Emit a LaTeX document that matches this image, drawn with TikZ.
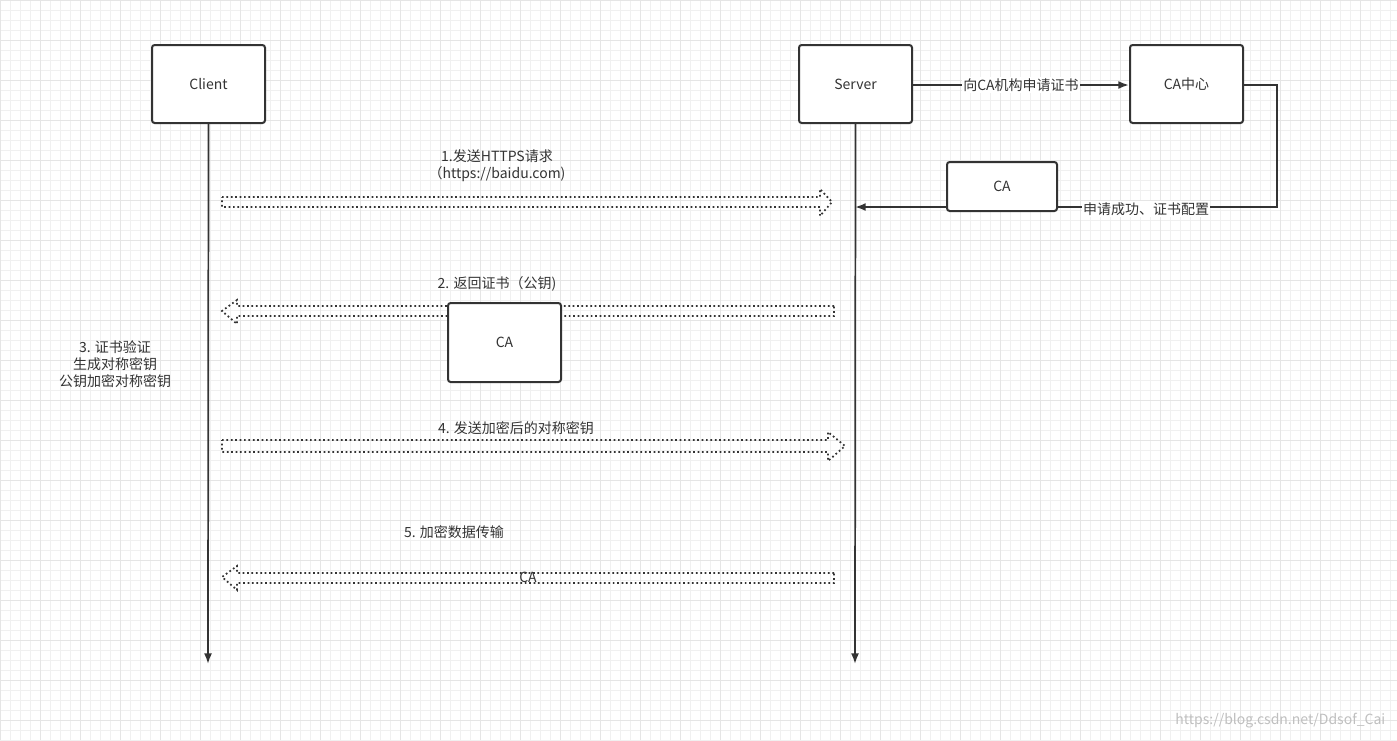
\documentclass[tikz,border=0pt]{standalone}
\usepackage{fontspec}
\usetikzlibrary{arrows.meta}
\setmainfont{Noto Sans CJK SC}
\begin{document}
\begin{tikzpicture}[x=0.75pt,y=-0.75pt,
  box/.style={draw=black!80,line width=1.5pt,rounded corners=2pt,fill=white,inner sep=0pt},
  lbl/.style={font=\fontsize{10.5}{13}\selectfont,text=black!80,align=center},
  tip/.style={-{Latex[length=8pt,width=6pt]}},
  life/.style={draw=black!80,line width=1.3pt,tip},
  hollow/.style={draw=black!80,line width=1.3pt,dotted}]
\fill[white] (0,0) rectangle (1397,740);
\useasboundingbox (0,0) rectangle (1397,740);
\foreach \i in {0,10,...,1390} \draw[black!6,line width=0.5pt] (\i,0) -- (\i,740);
\foreach \i in {0,10,...,740} \draw[black!6,line width=0.5pt] (0,\i) -- (1397,\i);
\foreach \i in {0,40,...,1390} \draw[black!10,line width=0.6pt] (\i,0) -- (\i,740);
\foreach \i in {0,40,...,740} \draw[black!10,line width=0.6pt] (0,\i) -- (1397,\i);

\node[box,minimum width=84.75pt,minimum height=58.5pt,lbl] (client) at (208.5,84) {Client};
\node[box,minimum width=84.75pt,minimum height=58.5pt,lbl] (server) at (855.5,84) {Server};
\node[box,minimum width=84.75pt,minimum height=58.5pt,lbl] (cac) at (1186.5,84) {CA中心};

\coordinate (ce) at (208,664);
\coordinate (se) at (855,664);
\draw[life] (client.south) -- (ce);
\draw[life] (server.south) -- (se);

\coordinate (r1) at (1277,85);
\coordinate (r2) at (1277,207);
\coordinate (sl) at (855,207);
\draw[line width=1.5pt,draw=black!80,tip] (server.east|-0,85) -- node[lbl,fill=white,inner sep=1pt]{向CA机构申请证书} (cac.west|-0,85);
\draw[line width=1.5pt,draw=black!80,tip] (cac.east|-0,85) -- (r1) -- (r2) -- (sl);
\node[lbl,fill=white,inner sep=1pt] (l6) at (1146,209) {申请成功、证书配置};
\node[box,minimum width=82.5pt,minimum height=36.75pt,lbl] (ca1) at (1002,186.5) {CA};

% arrow 1
\draw[hollow] (222,197) -- (820,197) -- (820,189) -- (832,202) -- (820,216) -- (820,207) -- (222,207) -- cycle;
\node[lbl] (l1) at (497,166) {1.发送HTTPS请求\\（https://baidu.com)};
% arrow 2
\draw[hollow] (834,306) -- (237,306) -- (237,300) -- (222,311) -- (237,324) -- (237,316) -- (834,316) -- cycle;
\node[lbl] (l2) at (497,284) {2. 返回证书（公钥)};
\node[box,minimum width=84.75pt,minimum height=59.25pt,lbl] (ca2) at (504.5,342.5) {CA};
% arrow 4
\draw[hollow] (222,440) -- (828,440) -- (828,432) -- (845,446) -- (828,461) -- (828,452) -- (222,452) -- cycle;
\node[lbl] (l4) at (516,428) {4. 发送加密后的对称密钥};
% arrow 5
\draw[hollow] (834,573) -- (237,573) -- (237,566) -- (222,577) -- (237,590) -- (237,583) -- (834,583) -- cycle;
\node[lbl] (l5c) at (528,577) {CA};
\node[lbl] (l5) at (454,532) {5. 加密数据传输};

\node[lbl] (l3) at (115,364) {3. 证书验证\\生成对称密钥\\公钥加密对称密钥};
\node[lbl,text=black!25,anchor=east] (wm) at (1390,721) {https://blog.csdn.net/Ddsof\_Cai};
\end{tikzpicture}
\end{document}
